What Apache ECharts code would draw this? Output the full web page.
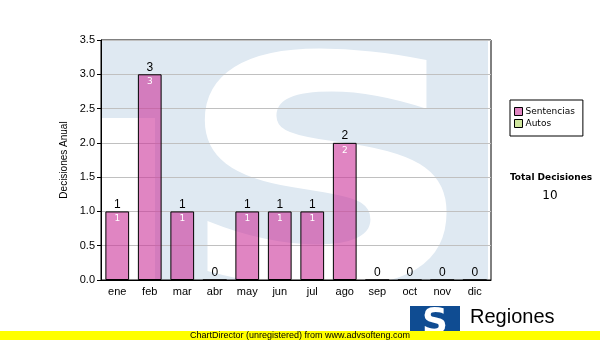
<!DOCTYPE html>
<html><head><meta charset="utf-8">
<script src="https://cdn.jsdelivr.net/npm/echarts@6/dist/echarts.min.js"></script>
<style>html,body{margin:0;padding:0;background:#fff}#c{width:600px;height:340px}</style>
</head><body><div id="c"></div>
<script>
var categories = ['ene','feb','mar','abr','may','jun','jul','ago','sep','oct','nov','dic'];
var sentencias = [1,3,1,0,1,1,1,2,0,0,0,0];
var autos = [0,0,0,0,0,0,0,0,0,0,0,0];
var yTicks = {min:0, max:3.5, interval:0.5};
var totalLabel = 'Total Decisiones';
var totalValue = '10';

var chart = echarts.init(document.getElementById('c'), null, {renderer:'canvas'});
var totals = sentencias.map(function(v,i){return v + autos[i];});
var F = 'Liberation Sans, Arial, sans-serif';
chart.setOption({
  animation:false,
  backgroundColor:'#fff',
  grid:{left:101, right:109, top:40, bottom:60, show:true, borderColor:'#000', borderWidth:1, backgroundColor:'transparent'},
  legend:{
    orient:'vertical', left:510, top:100, width:75,
    padding:[7,8,8,4], borderColor:'#000', borderWidth:1, backgroundColor:'#fff',
    itemWidth:8, itemHeight:8, itemGap:3,
    itemStyle:{borderColor:'#000', borderWidth:1},
    textStyle:{fontFamily:'DejaVu Sans, sans-serif', fontSize:9, color:'#000', padding:[0,0,0,-2]},
    data:[{name:'Sentencias', icon:'rect'},{name:'Autos', icon:'rect'}]
  },
  xAxis:{
    type:'category', data:categories,
    axisLine:{lineStyle:{color:'#000'}},
    axisTick:{alignWithLabel:true, length:4, lineStyle:{color:'#000'}},
    axisLabel:{color:'#000', fontFamily:F, fontSize:11, margin:6}
  },
  yAxis:{
    type:'value', min:yTicks.min, max:yTicks.max, interval:yTicks.interval,
    name:'Decisiones Anual', nameLocation:'middle', nameRotate:90, nameGap:25,
    nameTextStyle:{fontFamily:F, fontSize:10, color:'#000'},
    axisLine:{show:true, lineStyle:{color:'#000'}},
    axisTick:{show:true, length:4, lineStyle:{color:'#000'}},
    axisLabel:{color:'#000', fontFamily:F, fontSize:11, margin:6, formatter:function(v){return v.toFixed(1);}},
    splitLine:{lineStyle:{color:'#c0c0c0', width:1}}
  },
  series:[
    {
      name:'Sentencias', type:'bar', stack:'t', data:sentencias, barCategoryGap:'27%',
      itemStyle:{color:'rgba(204,51,153,0.6)', borderColor:'#000', borderWidth:1},
      label:{show:true, position:'insideTop', distance:3, color:'#fff', fontSize:9, fontFamily:'DejaVu Sans, sans-serif',
        formatter:function(p){return p.value>0? String(p.value):'';}}
    },
    {
      name:'Autos', type:'bar', stack:'t', data:autos,
      itemStyle:{color:'#cfe69e', borderColor:'#000', borderWidth:0},
      label:{show:true, position:'top', distance:1, color:'#000', fontSize:12, fontFamily:F,
        formatter:function(p){return String(totals[p.dataIndex]);}}
    }
  ],
  graphic:[
    {type:'rect', z:-100, silent:true, shape:{x:102, y:41, width:386, height:239}, style:{fill:'#dfe9f2'}},
    {type:'rect', z:-99, silent:true, shape:{x:102, y:118, width:53, height:162}, style:{fill:'#fff'}},
    {type:'text', z:-98, silent:true, x:326, y:201, scaleX:1.33, style:{text:'S', fill:'#fff', fontFamily:'DejaVu Sans', fontWeight:'bold', fontSize:316, align:'center', verticalAlign:'middle'}},
    {type:'text', x:551, y:178, style:{text:totalLabel, fill:'#000', fontFamily:'DejaVu Sans', fontWeight:'bold', fontSize:9, align:'center', verticalAlign:'middle'}},
    {type:'text', x:550, y:196, style:{text:totalValue, fill:'#000', fontFamily:'DejaVu Sans', fontSize:12, align:'center', verticalAlign:'middle'}},
    {type:'rect', shape:{x:410, y:306, width:50, height:30}, style:{fill:'#0f4c92'}},
    {type:'text', x:435, y:324, style:{text:'S', fill:'#fff', fontFamily:'DejaVu Sans', fontWeight:'bold', fontSize:36, align:'center', verticalAlign:'middle'}},
    {type:'text', x:470, y:317, style:{text:'Regiones', fill:'#000', fontFamily:'Liberation Sans', fontSize:20, align:'left', verticalAlign:'middle'}},
    {type:'rect', z:50, shape:{x:0, y:331, width:600, height:9}, style:{fill:'#ffff00'}},
    {type:'text', z:51, x:190, y:335.5, style:{text:'ChartDirector (unregistered) from www.advsofteng.com', fill:'#000', fontFamily:'Liberation Sans', fontSize:9, align:'left', verticalAlign:'middle'}}
  ]
});
</script></body></html>
